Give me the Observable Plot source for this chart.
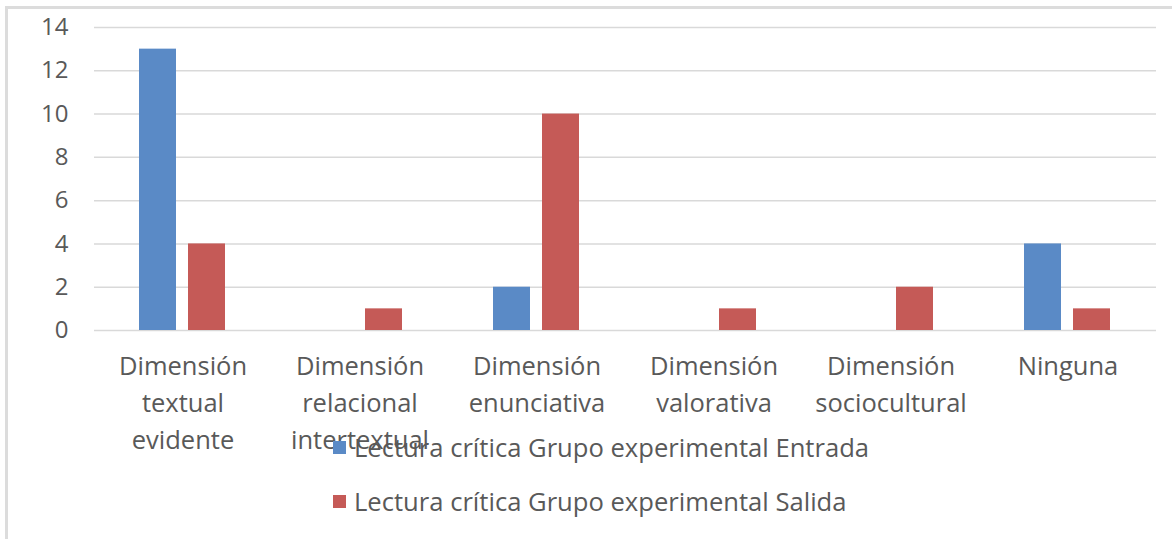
<!DOCTYPE html>
<html>
<head>
<meta charset="utf-8">
<script src="https://cdn.jsdelivr.net/npm/d3@7"></script>
<script src="https://cdn.jsdelivr.net/npm/@observablehq/plot@0.6"></script>
<style>
  html, body { margin: 0; padding: 0; background: #fff; }
  #wrap { position: relative; width: 1172px; height: 539px; overflow: hidden; font-family: "Open Sans", Lato, sans-serif; }
  #frameL { position: absolute; left: 5px; top: 6px; width: 3px; height: 533px; background: #dcdcdc; }
  #frameT { position: absolute; left: 5px; top: 6px; width: 1167px; height: 3px; background: #dcdcdc; }
  #chart { position: absolute; left: 0; top: 0; }
  #legend { position: absolute; left: 333px; top: 428px; color: #595959; font-size: 25.6px; }
  .item { display: flex; align-items: center; height: 38px; margin-bottom: 16px; white-space: nowrap; }
  .sw { width: 13px; height: 13px; margin-right: 8px; }
</style>
</head>
<body>
<div id="wrap">
  <div id="frameL"></div>
  <div id="frameT"></div>
  <div id="chart"></div>
  <div id="legend"></div>
</div>
<script>
const categories = [
  "Dimensión\ntextual\nevidente",
  "Dimensión\nrelacional\nintertextual",
  "Dimensión\nenunciativa",
  "Dimensión\nvalorativa",
  "Dimensión\nsociocultural",
  "Ninguna"
];
const seriesNames = [
  "Lectura crítica Grupo experimental Entrada",
  "Lectura crítica Grupo experimental Salida"
];
const entrada = [13, 0, 2, 0, 0, 4];
const salida = [4, 1, 10, 1, 2, 1];
const colors = ["#5a8ac6", "#c55a57"];
const yTicks = [0, 2, 4, 6, 8, 10, 12, 14];

const data = [];
categories.forEach((c, i) => {
  data.push({cat: c, series: seriesNames[0], value: entrada[i]});
  data.push({cat: c, series: seriesNames[1], value: salida[i]});
});

const plot = Plot.plot({
  width: 1172,
  height: 539,
  marginLeft: 92,
  marginRight: 15,
  marginTop: 27,
  marginBottom: 209,
  style: {fontFamily: "'Open Sans', Lato, sans-serif", background: "transparent"},
  fx: {domain: categories, padding: 0, label: null, axis: null},
  x: {domain: seriesNames, paddingInner: 0.24, paddingOuter: 0.895, axis: null},
  y: {domain: [0, 14], label: null},
  color: {domain: seriesNames, range: colors},
  marks: [
    Plot.gridY(yTicks, {stroke: "#d9d9d9", strokeOpacity: 1, strokeWidth: 1.5}),
    Plot.barY(data, {fx: "cat", x: "series", y: "value", fill: "series"}),
    Plot.axisY(yTicks, {tickSize: 0, tickPadding: 26, fontSize: 24, fill: "#595959", label: null}),
    Plot.axisFx({anchor: "bottom", tickSize: 0, tickPadding: 18, fontSize: 25.5, fill: "#595959", lineHeight: 1.45, label: null})
  ]
});
document.getElementById("chart").appendChild(plot);

const legend = document.getElementById("legend");
seriesNames.forEach((s, i) => {
  const it = document.createElement("div");
  it.className = "item";
  const sw = document.createElement("div");
  sw.className = "sw";
  sw.style.background = colors[i];
  const t = document.createElement("span");
  t.textContent = s;
  it.appendChild(sw);
  it.appendChild(t);
  legend.appendChild(it);
});
</script>
</body>
</html>
